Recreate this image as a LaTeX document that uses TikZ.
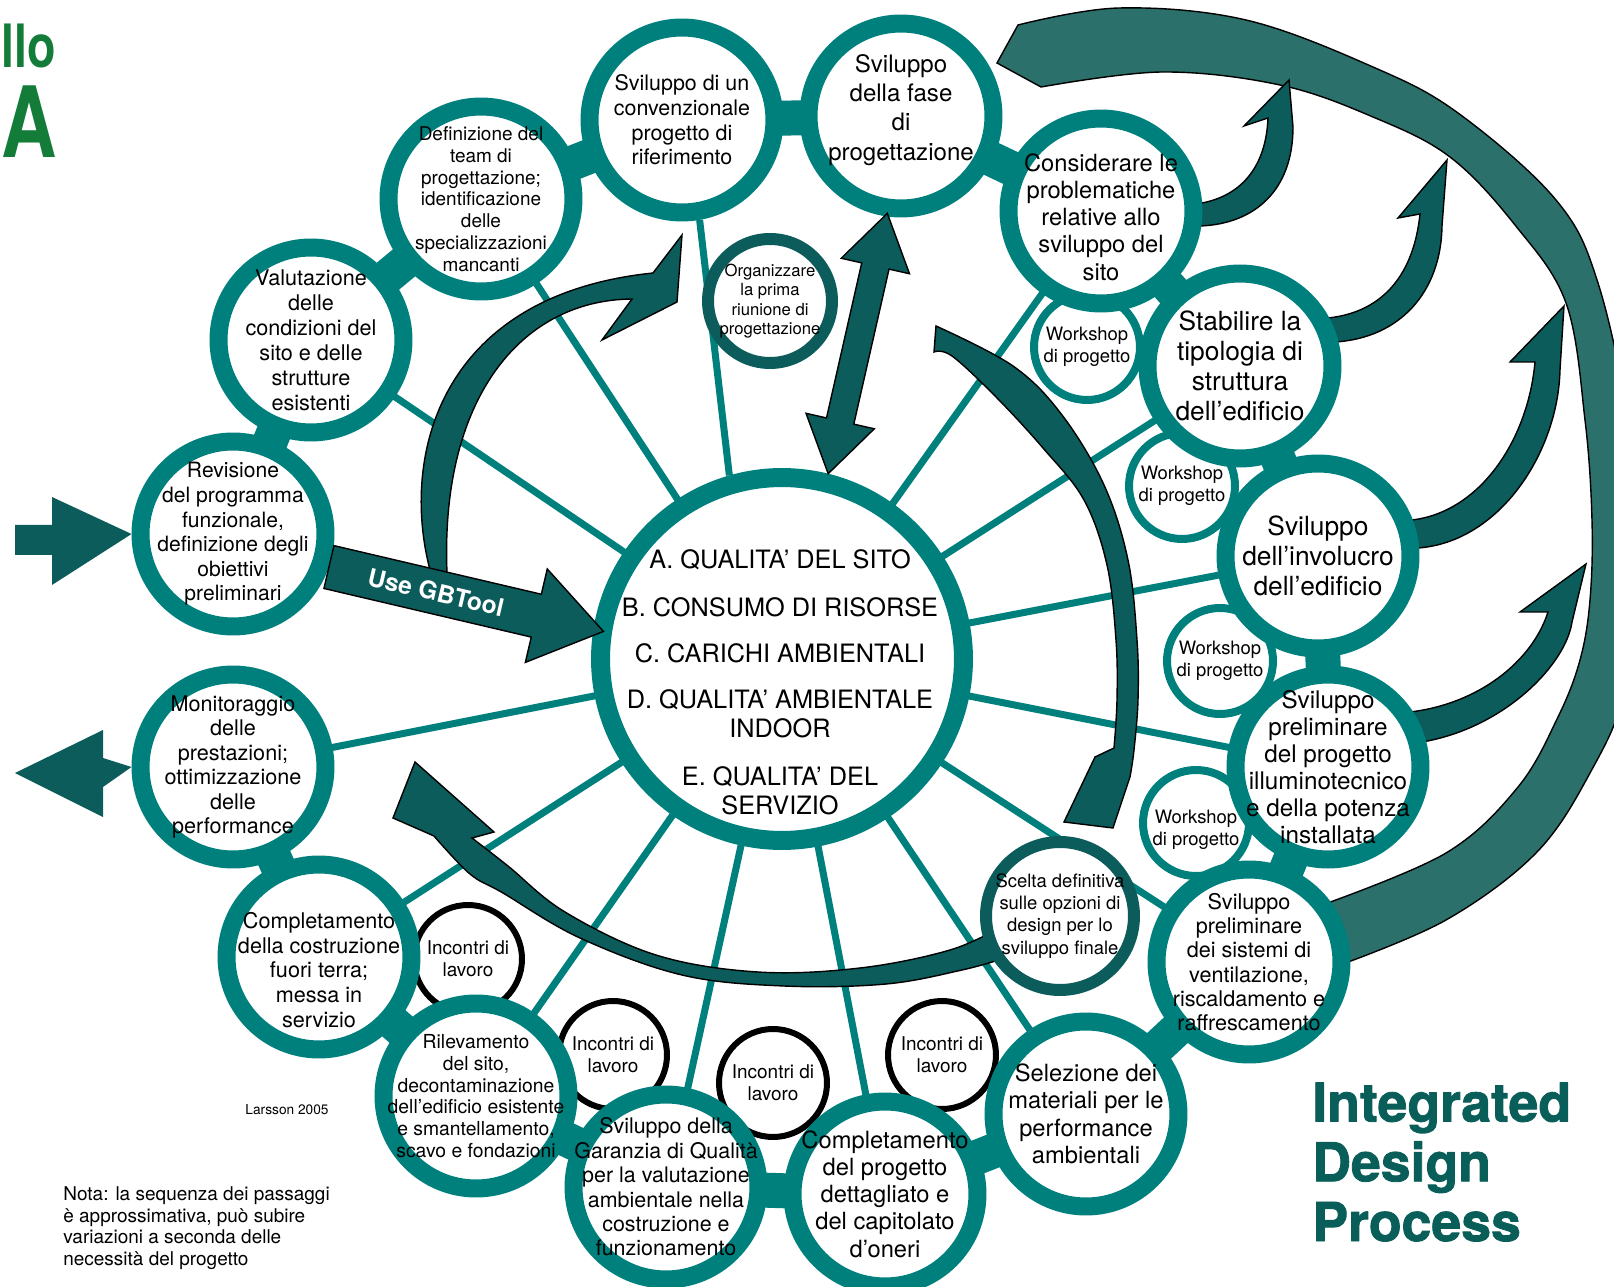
\documentclass[tikz,border=0pt]{standalone}
\usepackage{fontspec}
\setmainfont{TeX Gyre Heros}
\newfontfamily\heavyfont{texgyreheros-bold.otf}[FakeBold=1.6]
\definecolor{ringteal}{RGB}{0,128,124}
\definecolor{arrowteal}{RGB}{12,92,92}
\definecolor{bandteal}{RGB}{44,112,108}
\definecolor{titleteal}{RGB}{10,94,90}
\definecolor{logogreen}{RGB}{18,124,56}
\newcommand{\fsz}[2]{\fontsize{#1}{#2}\selectfont}
\pgfdeclarelayer{spokes}
\pgfdeclarelayer{arrows}
\pgfdeclarelayer{front}
\pgfsetlayers{spokes,arrows,main,front}
\tikzset{
  stepring/.style={circle, draw=ringteal, fill=white, line width=0.36cm, minimum size=3.7cm, inner sep=0pt},
  hubring/.style={circle, draw=ringteal, fill=white, line width=0.38cm, minimum size=7.26cm, inner sep=0pt},
  meetring/.style={circle, draw=arrowteal, fill=white, line width=0.24cm, inner sep=0pt},
  workring/.style={circle, draw=ringteal, fill=white, line width=0.16cm, minimum size=2.12cm, inner sep=0pt},
  talkring/.style={circle, draw=black, fill=white, line width=0.12cm, minimum size=2.16cm, inner sep=0pt},
  spoke/.style={draw=ringteal, line width=0.14cm},
  link/.style={draw=ringteal, line width=0.7cm},
  swoosh/.style={fill=arrowteal, draw=black, line width=0.8pt, line join=miter},
  bandarc/.style={fill=bandteal, draw=black, line width=0.8pt},
  lbl/.style={align=center, inner sep=0pt},
}
\begin{document}
\begin{tikzpicture}[x=0.02cm, y=-0.02cm, line join=round]
\useasboundingbox (0,0) rectangle (1614,1287);

\node[meetring, minimum size=2.48cm] (org) at (770,301) {};
\node[meetring, minimum size=2.96cm] (scelta) at (1060,916) {};
\foreach \n/\p in {ws1/{1087,347}, ws2/{1182,486}, ws3/{1220,661}, ws4/{1196,823}}
  \node[workring] (\n) at (\p) {};
\foreach \n/\p in {inc1/{468,959}, inc2/{613,1055}, inc3/{773,1083}, inc4/{942,1055}}
  \node[talkring] (\n) at (\p) {};
\foreach \n/\p in {rev/{233,534}, val/{311,340}, team/{481,199}, conv/{682,120},
  fase/{901,116}, cons/{1101,211}, stab/{1240,366}, invol/{1318,556},
  illum/{1328,767}, sist/{1249,962}, sel/{1086,1114}, compl/{885,1194},
  gar/{666,1187}, ril/{476,1096}, costr/{319,957}, mon/{233,767}}
  \node[stepring] (\n) at (\p) {};
\node[hubring] (hub) at (782,659) {};

\node[lbl, font=\fsz{12}{14}] (rev-t) at (rev) {Revisione\\del programma\\funzionale,\\definizione degli\\obiettivi\\preliminari};
\node[lbl, font=\fsz{12.3}{14.2}] (val-t) at (val) {Valutazione\\delle\\condizioni del\\sito e delle\\strutture\\esistenti};
\node[lbl, font=\fsz{10.8}{12.4}] (team-t) at (team) {Definizione del\\team di\\progettazione;\\identificazione\\delle\\specializzazioni\\mancanti};
\node[lbl, font=\fsz{12.2}{14}] (conv-t) at (conv) {Sviluppo di un\\convenzionale\\progetto di\\riferimento};
\node[lbl, font=\fsz{13.7}{16.6}, yshift=0.12cm] (fase-t) at (fase) {Sviluppo\\della fase\\di\\progettazione};
\node[lbl, font=\fsz{13.5}{15.5}, yshift=-0.12cm] (cons-t) at (cons) {Considerare le\\problematiche\\relative allo\\sviluppo del\\sito};
\node[lbl, font=\fsz{15}{17}] (stab-t) at (stab) {Stabilire la\\tipologia di\\struttura\\dell’edificio};
\node[lbl, font=\fsz{15}{17}] (invol-t) at (invol) {Sviluppo\\dell’involucro\\dell’edificio};
\node[lbl, font=\fsz{13.8}{15.4}] (illum-t) at (illum) {Sviluppo\\preliminare\\del progetto\\illuminotecnico\\e della potenza\\installata};
\node[lbl, font=\fsz{12.3}{13.8}] (sist-t) at (sist) {Sviluppo\\preliminare\\dei sistemi di\\ventilazione,\\riscaldamento e\\raffrescamento};
\node[lbl, font=\fsz{13.5}{15.6}] (sel-t) at (sel) {Selezione dei\\materiali per le\\performance\\ambientali};
\node[lbl, font=\fsz{13.5}{15.5}] (compl-t) at (compl) {Completamento\\del progetto\\dettagliato e\\del capitolato\\d’oneri};
\node[lbl, font=\fsz{12.2}{13.9}] (gar-t) at (gar) {Sviluppo della\\Garanzia di Qualità\\per la valutazione\\ambientale nella\\costruzione e\\funzionamento};
\node[lbl, font=\fsz{11}{12.4}] (ril-t) at (ril) {Rilevamento\\del sito,\\decontaminazione\\dell’edificio esistente\\e smantellamento,\\scavo e fondazioni};
\node[lbl, font=\fsz{12.3}{14}, yshift=-0.26cm] (costr-t) at (costr) {Completamento\\della costruzione\\fuori terra;\\messa in\\servizio};
\node[lbl, font=\fsz{12.3}{13.9}] (mon-t) at (mon) {Monitoraggio\\delle\\prestazioni;\\ottimizzazione\\delle\\performance};
\node[lbl, font=\fsz{9.5}{11}] (org-t) at (org) {Organizzare\\la prima\\riunione di\\progettazione};
\node[lbl, font=\fsz{10.5}{12.6}] (scelta-t) at (scelta) {Scelta definitiva\\sulle opzioni di\\design per lo\\sviluppo finale};
\foreach \n in {ws1,ws2,ws3}
  \node[lbl, font=\fsz{10.5}{12.3}] (\n-t) at (\n) {Workshop\\di progetto};
\node[lbl, font=\fsz{10.5}{12.3}, yshift=-0.14cm] (ws4-t) at (ws4) {Workshop\\di progetto};
\foreach \n in {inc1,inc2,inc3,inc4}
  \node[lbl, font=\fsz{10.8}{12.4}] (\n-t) at (\n) {Incontri di\\lavoro};

\node[lbl, font=\fsz{14.4}{16.5}] (qa) at (780,560) {A. QUALITA’ DEL SITO};
\node[lbl, font=\fsz{14.4}{16.5}] (qb) at (780,607) {B. CONSUMO DI RISORSE};
\node[lbl, font=\fsz{14.4}{16.5}] (qc) at (780,653) {C. CARICHI AMBIENTALI};
\node[lbl, font=\fsz{14.4}{16.5}] (qd) at (780,714) {D. QUALITA’ AMBIENTALE\\INDOOR};
\node[lbl, font=\fsz{14.4}{16.5}] (qe) at (780,791) {E. QUALITA’ DEL\\SERVIZIO};

\node[lbl, font=\fsz{7.8}{9}] (cite) at (287,1110) {Larsson 2005};
\node[anchor=west, align=left, inner sep=0pt, font=\fsz{10.8}{12.3}] (nota) at (63,1228) {Nota: la sequenza dei passaggi\\è approssimativa, può subire\\variazioni a seconda delle\\necessità del progetto};
\node[anchor=west, align=left, inner sep=0pt, font={\heavyfont\fsz{30.5}{34}}, text=titleteal] (idp) at (1312,1162) {Integrated\\Design\\Process};
\node[anchor=base west, inner sep=0pt, xscale=0.78, font={\fsz{34}{36}\bfseries}, text=logogreen] (logo1) at (1,68) {llo};
\node[anchor=base west, inner sep=0pt, xscale=0.78, font={\fsz{56}{60}\bfseries}, text=logogreen] (logo2) at (1,158) {A};

\begin{pgfonlayer}{spokes}
\foreach \n in {val,team,cons,stab,invol,illum,sist,sel,compl,gar,ril,costr,mon}
  \draw[spoke] (hub.center) -- (\n.center);
\draw[spoke] (hub.106) -- (conv.280);
\foreach \a/\b in {rev/val, val/team, team/conv, conv/fase, fase/cons, cons/stab,
  stab/invol, invol/illum, illum/sist, sist/sel, sel/compl, compl/gar, gar/ril,
  ril/costr, costr/mon}
  \draw[link] (\a.center) -- (\b.center);
\end{pgfonlayer}

\begin{pgfonlayer}{arrows}
\draw[bandarc] (997,63) -- plot[smooth, tension=.6] coordinates {(1018,25) (1119,8) (1246,20) (1373,67) (1458,113) (1556,200) (1598,283) (1630,430) (1640,560) (1625,690) (1590,773) (1536,853) (1446,920) (1340,965)}
  -- plot[smooth, tension=.6] coordinates {(1322,905) (1446,853) (1518,787) (1558,717) (1580,660) (1590,600) (1592,520) (1585,420) (1566,303) (1515,225) (1450,157) (1373,117) (1280,85) (1162,72) (1041,87)} -- cycle;
\draw[swoosh] (1200,226) .. controls (1255,224) and (1293,190) .. (1293,127) -- (1289,80) -- (1244,126) -- (1268,118) .. controls (1266,168) and (1240,198) .. (1196,204) -- cycle;
\draw[swoosh] (1335,342) .. controls (1400,338) and (1441,292) .. (1442,226) -- (1447,160) -- (1398,218) -- (1420,214) .. controls (1414,272) and (1385,312) .. (1328,318) -- cycle;
\draw[swoosh] (1418,548) .. controls (1500,542) and (1558,452) .. (1560,370) -- (1564,306) -- (1510,362) -- (1535,362) .. controls (1528,440) and (1480,512) .. (1412,520) -- cycle;
\draw[swoosh] (1422,742) .. controls (1505,728) and (1566,664) .. (1572,622) -- (1586,564) -- (1520,612) -- (1548,612) .. controls (1532,662) and (1478,704) .. (1410,712) -- cycle;
\draw[swoosh] (430,570) .. controls (400,455) and (440,295) .. (653,273) -- (682,235) -- (677,302) -- (602,340) -- (632,299) .. controls (520,300) and (440,400) .. (447,573) -- cycle;
\draw[swoosh] plot[smooth, tension=.6] coordinates {(936,326) (1013,366) (1062,415) (1104,485) (1128,560) (1137,640) (1138,700) (1134,750) (1130,777)}
  -- (1113,828) -- (1064,822) -- (1095,757)
  -- plot[smooth, tension=.6] coordinates {(1114,748) (1117,700) (1116,640) (1107,565) (1084,500) (1043,448) (996,397) (952,356) (934,352)} -- cycle;
\draw[swoosh] plot[smooth, tension=.6] coordinates {(1003,926) (950,950) (860,968) (758,972) (656,955) (565,912) (508,866) (472,838)}
  -- (494,832) -- (415,762) -- (393,818)
  -- plot[smooth, tension=.6] coordinates {(434,836) (470,874) (503,893) (580,938) (682,975) (784,986) (886,984) (962,970) (1005,958)} -- cycle;
\end{pgfonlayer}

\begin{pgfonlayer}{front}
\fill[arrowteal] (15,525) -- (52,525) -- (52,497) -- (rev.west) -- (52,585) -- (52,555) -- (15,555) -- cycle;
\fill[arrowteal] (mon.west) -- (103,758) -- (103,730) -- (15,773) -- (103,817) -- (103,787) -- (mon.west) -- cycle;
\begin{scope}[shift={(rev.-19)}, rotate=-13.2]
\draw[swoosh] (0,-22) -- (213,-22) -- (213,-48) -- (282,0) -- (213,48) -- (213,22) -- (0,22) -- cycle;
\node[font={\fsz{14}{16}\bfseries}, text=white, rotate=-13.2] (gbtool) at (110,0) {Use GBTool};
\end{scope}
\begin{scope}[shift={(hub.76)}, rotate=77.2]
\draw[swoosh] (0,0) -- (54,-35) -- (54,-14) -- (213,-14) -- (213,-35) -- (267,0) -- (213,35) -- (213,14) -- (54,14) -- (54,35) -- cycle;
\end{scope}
\end{pgfonlayer}
\end{tikzpicture}
\end{document}
